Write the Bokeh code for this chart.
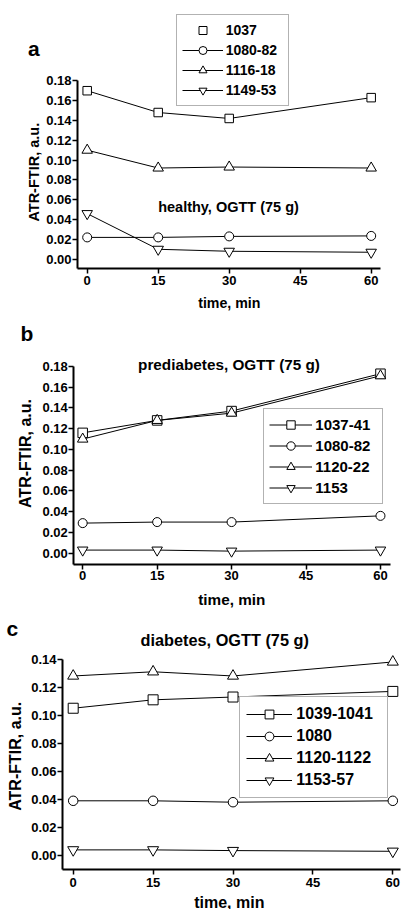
import math
from bokeh.plotting import figure
from bokeh.models import (Range1d, FixedTicker, PrintfTickFormatter, Legend, LegendItem,
                          Label, LinearAxis)
from bokeh.embed import file_html
from bokeh.resources import INLINE

# ---------------- data ----------------
time_min = [0, 15, 30, 60]
x_ticks = [0, 15, 30, 45, 60]
y_ticks_ab = [0.00, 0.02, 0.04, 0.06, 0.08, 0.10, 0.12, 0.14, 0.16, 0.18]
y_ticks_c = [0.00, 0.02, 0.04, 0.06, 0.08, 0.10, 0.12, 0.14]

healthy_labels = ["1037", "1080-82", "1116-18", "1149-53"]
healthy_1037 = [0.170, 0.148, 0.142, 0.163]
healthy_1080_82 = [0.022, 0.022, 0.023, 0.0235]
healthy_1116_18 = [0.110, 0.092, 0.093, 0.092]
healthy_1149_53 = [0.046, 0.010, 0.008, 0.007]

prediab_labels = ["1037-41", "1080-82", "1120-22", "1153"]
prediab_1037_41 = [0.116, 0.128, 0.137, 0.173]
prediab_1080_82 = [0.029, 0.030, 0.030, 0.036]
prediab_1120_22 = [0.110, 0.128, 0.135, 0.171]
prediab_1153 = [0.003, 0.003, 0.002, 0.003]

diab_labels = ["1039-1041", "1080", "1120-1122", "1153-57"]
diab_1039_1041 = [0.105, 0.111, 0.113, 0.117]
diab_1080 = [0.039, 0.039, 0.038, 0.039]
diab_1120_1122 = [0.128, 0.131, 0.128, 0.138]
diab_1153_57 = [0.004, 0.004, 0.0035, 0.003]

panel_titles = ["healthy, OGTT (75 g)", "prediabetes, OGTT (75 g)", "diabetes, OGTT (75 g)"]
panel_letters = ["a", "b", "c"]
x_title = "time, min"
y_title = "ATR-FTIR, a.u."

# ---------------- styles / geometry (canvas pixels) ----------------
FONT = "Liberation Sans"
MARKERS = ["square", "circle", "triangle", "inverted_triangle"]
W, H = 404, 909

panels = [
    dict(name="a", series=[healthy_1037, healthy_1080_82, healthy_1116_18, healthy_1149_53],
         labels=healthy_labels, yticks=y_ticks_ab, ytop=0.18,
         left=77, right=380, bottom=268, xstand=2,
         x0=86.7, xs=4.733, y0=258.7, ys=991.1,
         msize=[8.5, 9, 10.5, 10.5],
         leg=dict(left=175.7, top=16, pad=5, gh=20, gw=41, stand=3, lw=57, fs="14px"),
         first_marker_only=True,
         letter=(27.5, 48), title=(228, 206.7, 14.5),
         xt=(228.8, 302, 14.2), yt=(33.3, 171.7, 14.5)),
    dict(name="b", series=[prediab_1037_41, prediab_1080_82, prediab_1120_22, prediab_1153],
         labels=prediab_labels, yticks=y_ticks_ab, ytop=0.18,
         left=73.3, right=390, bottom=563.7, xstand=2,
         x0=82.2, xs=4.963, y0=552.7, ys=1037.4,
         msize=[9.5, 9, 10.5, 10.5],
         leg=dict(left=263.3, top=410, pad=5, gh=21, gw=43, stand=3, lw=62, fs="15px"),
         first_marker_only=False,
         letter=(20, 333), title=(228.5, 364, 15.3),
         xt=(231.3, 599, 15.3), yt=(25, 453, 16)),
    dict(name="c", series=[diab_1039_1041, diab_1080, diab_1120_1122, diab_1153_57],
         labels=diab_labels, yticks=y_ticks_c, ytop=0.14,
         left=62, right=400, bottom=868.5, xstand=4,
         x0=72.7, xs=5.327, y0=855.0, ys=1402.5,
         msize=[10, 9.5, 11, 11],
         leg=dict(left=239.3, top=697.7, pad=6, gh=22, gw=46, stand=4, lw=85, fs="16px"),
         first_marker_only=False,
         letter=(6, 628.3), title=(224.2, 639, 16.3),
         xt=(228.8, 901.5, 16), yt=(15, 755.8, 16)),
]

# One canvas; default ranges are canvas pixels (y downwards) used only for text placement.
p = figure(width=W, height=H, output_backend="svg", toolbar_location=None,
           x_range=Range1d(0, W), y_range=Range1d(H, 0),
           x_axis_location=None, y_axis_location=None, min_border=0)
p.outline_line_color = None
p.background_fill_color = "white"
p.border_fill_color = "white"
p.grid.visible = False

extra_x, extra_y = {}, {}


def add_text(text, px, py, size, align="center", angle=0.0):
    p.add_layout(Label(x=px, y=py, text=text, text_font=FONT, text_font_style="bold",
                       text_font_size=f"{size}px", text_color="black",
                       text_align=align, text_baseline="alphabetic", angle=angle))


for i, cfg in enumerate(panels):
    nm = cfg["name"]
    x0, xs, y0, ys = cfg["x0"], cfg["xs"], cfg["y0"], cfg["ys"]
    extra_x[nm] = Range1d((0 - x0) / xs, (W - x0) / xs)
    extra_y[nm] = Range1d((y0 - H) / ys, (y0 - 0) / ys)
    x_left = (cfg["left"] - x0) / xs
    x_right = (cfg["right"] - x0) / xs
    y_bot = (y0 - cfg["bottom"]) / ys

    yax = LinearAxis(x_range_name=nm, y_range_name=nm, fixed_location=x_left,
                     bounds=(y_bot, cfg["ytop"]), ticker=FixedTicker(ticks=cfg["yticks"]),
                     formatter=PrintfTickFormatter(format="%.2f"))
    xax = LinearAxis(x_range_name=nm, y_range_name=nm, fixed_location=y_bot,
                     bounds=(x_left, x_right), ticker=FixedTicker(ticks=x_ticks))
    for ax in (xax, yax):
        ax.axis_line_color = "black"
        ax.axis_line_width = 2
        ax.major_tick_line_color = "black"
        ax.major_tick_line_width = 1.5
        ax.major_tick_in = 0
        ax.major_tick_out = 5
        ax.minor_tick_in = 0
        ax.minor_tick_out = 0
        ax.major_label_text_font = FONT
        ax.major_label_text_font_style = "bold"
        ax.major_label_text_font_size = "13px"
        ax.major_label_text_color = "black"
    xax.major_label_standoff = cfg["xstand"]
    yax.major_label_standoff = 1
    p.add_layout(yax, "left")
    p.add_layout(xax, "below")

    items = []
    for k, (vals, lab, mk) in enumerate(zip(cfg["series"], cfg["labels"], MARKERS)):
        lr = p.line(time_min, vals, line_color="black", line_width=1,
                    x_range_name=nm, y_range_name=nm)
        sr = p.scatter(time_min, vals, marker=mk, size=cfg["msize"][k],
                       fill_color="white", line_color="black", line_width=1,
                       x_range_name=nm, y_range_name=nm)
        rends = [sr] if (k == 0 and cfg["first_marker_only"]) else [lr, sr]
        items.append(LegendItem(label=lab, renderers=rends))

    lg = cfg["leg"]
    leg_h = 2 * lg["pad"] + 4 * lg["gh"]
    legend = Legend(items=items,
                    location=(lg["left"], H - (lg["top"] + leg_h)),
                    padding=lg["pad"], spacing=0, margin=0,
                    glyph_width=lg["gw"], glyph_height=lg["gh"], label_height=lg["gh"],
                    label_width=lg["lw"], label_standoff=lg["stand"],
                    label_text_font=FONT, label_text_font_style="bold",
                    label_text_font_size=lg["fs"], label_text_color="black",
                    border_line_color="#666666", border_line_width=1,
                    background_fill_color="white", background_fill_alpha=1.0)
    p.add_layout(legend)

    lx, ly = cfg["letter"]
    add_text(panel_letters[i], lx, ly, 21, align="left")
    tx, ty, ts = cfg["title"]
    add_text(panel_titles[i], tx, ty, ts)
    xx, xy, xsz = cfg["xt"]
    add_text(x_title, xx, xy, xsz)
    yx, yy, ysz = cfg["yt"]
    add_text(y_title, yx, yy, ysz, angle=math.pi / 2)

p.extra_x_ranges = extra_x
p.extra_y_ranges = extra_y

open("out.html", "w").write(file_html(p, INLINE))
